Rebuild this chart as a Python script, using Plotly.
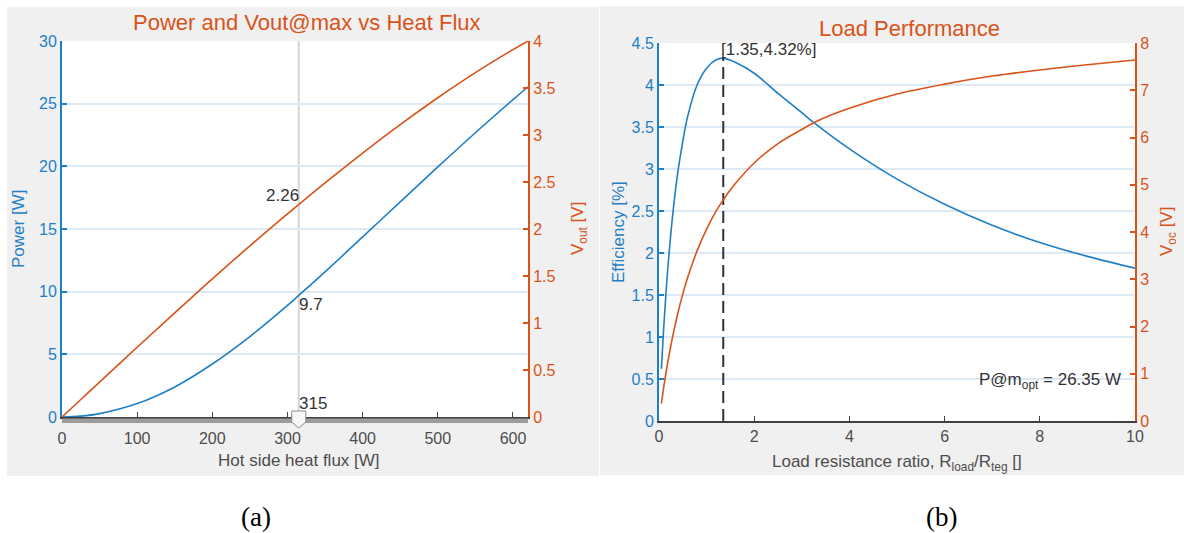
import plotly.graph_objects as go

# ---------------- data ----------------
heat_flux = [0, 25, 50, 100, 150, 200, 250, 300, 315, 350, 400, 450, 500, 550, 600, 620]
power_w = [0, 0.07, 0.27, 1.07, 2.4, 4.23, 6.42, 8.9, 9.7, 11.58, 14.37, 17.17, 19.95, 22.68, 25.32, 26.35]
vout_v = [0, 0.186, 0.371, 0.742, 1.108, 1.47, 1.82, 2.16, 2.26, 2.49, 2.808, 3.111, 3.396, 3.663, 3.908, 4.0]

load_ratio = [0.05, 0.1, 0.15, 0.2, 0.3, 0.4, 0.5, 0.6, 0.8, 1.0, 1.2, 1.35, 1.6, 2.0, 2.5, 3.0,
              3.28, 4.0, 5.0, 6.0, 7.0, 8.0, 9.0, 10.0]
efficiency = [0.62, 1.12, 1.55, 1.92, 2.52, 2.98, 3.33, 3.62, 4.0, 4.2, 4.3, 4.32, 4.27, 4.14, 3.9, 3.67,
              3.54, 3.24, 2.88, 2.58, 2.33, 2.125, 1.96, 1.82]
voc_v = [0.37, 0.72, 1.04, 1.33, 1.85, 2.30, 2.69, 3.03, 3.60, 4.06, 4.44, 4.68, 5.02, 5.46, 5.87, 6.17,
         6.33, 6.62, 6.92, 7.13, 7.3, 7.43, 7.54, 7.64]

cursor_flux = 315
cursor_power = 9.7
cursor_vout = 2.26
opt_ratio = 1.35
opt_eff = 4.32
p_opt_text = "P@m<sub>opt</sub> = 26.35 W"

x1_ticks = [0, 100, 200, 300, 400, 500, 600]

# ---------------- style ----------------
W, H = 1184, 533
BLUE = "#1f7fc6"
ORANGE = "#D95319"
GRAY_TXT = "#4d4d4d"
DARK_TXT = "#333333"
GRID = "#dde9f4"
FONT = "Liberation Sans, Arial, sans-serif"
TICK_SIZE = 16
LABEL_SIZE = 17


def px(x):
    return x / W


def py(y):
    return 1 - y / H


fig = go.Figure()

# left chart
fig.add_trace(go.Scatter(x=heat_flux, y=power_w, mode="lines", line=dict(color=BLUE, width=1.6, shape="spline"),
                         xaxis="x", yaxis="y", showlegend=False))
fig.add_trace(go.Scatter(x=heat_flux, y=vout_v, mode="lines", line=dict(color=ORANGE, width=1.6, shape="spline"),
                         xaxis="x", yaxis="y2", showlegend=False))

# right chart
fig.add_trace(go.Scatter(x=load_ratio, y=efficiency, mode="lines", line=dict(color=BLUE, width=1.6, shape="spline"),
                         xaxis="x2", yaxis="y3", showlegend=False))
fig.add_trace(go.Scatter(x=[opt_ratio, opt_ratio], y=[0, opt_eff], mode="lines",
                         line=dict(color="#333333", width=2, dash="12px,6px"),
                         xaxis="x2", yaxis="y3", showlegend=False))
fig.add_trace(go.Scatter(x=load_ratio, y=voc_v, mode="lines", line=dict(color=ORANGE, width=1.6, shape="spline"),
                         xaxis="x2", yaxis="y4", showlegend=False))

common_x = dict(ticks="inside", ticklen=5, tickwidth=1, tickcolor="#404040", showline=True, linecolor="#404040",
                linewidth=2, showgrid=False, zeroline=False, tickfont=dict(size=TICK_SIZE, color=GRAY_TXT),
                automargin=False, fixedrange=True)


def yax(color, grid, **kw):
    d = dict(ticks="inside", ticklen=5, tickwidth=1.5, tickcolor=color, showline=True, linecolor=color,
             linewidth=2, showgrid=grid, gridcolor=GRID, gridwidth=2, zeroline=False,
             tickfont=dict(size=TICK_SIZE, color=color), automargin=False, fixedrange=True)
    d.update(kw)
    return d


fig.update_layout(
    width=W, height=H,
    margin=dict(l=0, r=0, t=0, b=0),
    paper_bgcolor="white",
    plot_bgcolor="rgba(0,0,0,0)",
    font=dict(family=FONT),
    xaxis=dict(domain=[px(62), px(528)], range=[0, 620], tickvals=x1_ticks, anchor="y",
               ticklabelstandoff=6, **common_x),
    yaxis=dict(domain=[py(417), py(41)], **yax(BLUE, True, range=[0, 30], dtick=5, anchor="x")),
    yaxis2=dict(**yax(ORANGE, False, range=[0, 4], dtick=0.5, overlaying="y", side="right", anchor="x")),
    xaxis2=dict(domain=[px(659), px(1135)], range=[0, 10], dtick=2, anchor="y3", **common_x),
    yaxis3=dict(domain=[py(421), py(43)], **yax(BLUE, True, range=[0, 4.5], dtick=0.5, anchor="x2")),
    yaxis4=dict(**yax(ORANGE, False, range=[0, 8], dtick=1, overlaying="y3", side="right", anchor="x2")),
)

shapes = [
    # gray panels
    dict(type="rect", xref="paper", yref="paper", x0=px(7), x1=px(599), y0=py(476), y1=py(7),
         fillcolor="#f0f0f0", line=dict(width=0), layer="below"),
    dict(type="rect", xref="paper", yref="paper", x0=px(600), x1=1, y0=py(475), y1=py(6),
         fillcolor="#f0f0f0", line=dict(width=0), layer="below"),
    # white plot areas
    dict(type="rect", xref="paper", yref="paper", x0=px(62), x1=px(528), y0=py(417), y1=py(41),
         fillcolor="white", line=dict(width=0), layer="below"),
    dict(type="rect", xref="paper", yref="paper", x0=px(659), x1=px(1135), y0=py(421), y1=py(43),
         fillcolor="white", line=dict(width=0), layer="below"),
    # cursor line
    dict(type="line", xref="x", yref="y domain", x0=cursor_flux, x1=cursor_flux, y0=0, y1=1,
         line=dict(color="#d6d6d6", width=2), layer="below"),
    # slider bar
    dict(type="rect", xref="x", yref="paper", x0=0, x1=620, y0=py(423), y1=py(418.5),
         fillcolor="#9c9c9c", line=dict(width=0), layer="above"),
    # slider thumb
    dict(type="path", xref="x", yref="paper", xsizemode="pixel", ysizemode="pixel",
         xanchor=cursor_flux, yanchor=py(417),
         path="M-7,6 L7,6 L7,-5 L0,-11 L-7,-5 Z",
         fillcolor="#f7f7f7", line=dict(color="#8a8a8a", width=1), layer="above"),
]
fig.update_layout(shapes=shapes)

ann = []


def txt(text, x, y, size=LABEL_SIZE, color=GRAY_TXT, angle=0, family=FONT, **kw):
    d = dict(text=text, x=x, y=y, xref="paper", yref="paper", showarrow=False,
             font=dict(size=size, color=color, family=family), textangle=angle,
             xanchor="center", yanchor="middle")
    d.update(kw)
    ann.append(d)


txt("Power and Vout@max vs Heat Flux", px(307), py(22), size=22, color=ORANGE)
txt("Load Performance", px(909), py(29), size=22, color=ORANGE)
txt("Power [W]", px(18), py(229), color=BLUE, angle=-90)
txt("V<sub>out</sub> [V]", px(579), py(229), color=ORANGE, angle=-90)
txt("Efficiency [%]", px(618), py(232), color=BLUE, angle=-90)
txt("V<sub>oc</sub> [V]", px(1168), py(232), color=ORANGE, angle=-90)
txt("Hot side heat flux [W]", px(299), py(460))
txt("Load resistance ratio, R<sub>load</sub>/R<sub>teg</sub> []", px(897), py(463))
txt("(a)", px(256), py(517), size=27, color="black", family="Liberation Serif, Times New Roman, serif")
txt("(b)", px(941), py(517), size=27, color="black", family="Liberation Serif, Times New Roman, serif")

# data-anchored labels
ann.append(dict(text=f"{cursor_vout}", x=cursor_flux, y=cursor_vout, xref="x", yref="y2", showarrow=False,
                xanchor="right", yanchor="bottom", xshift=2, yshift=-2, font=dict(size=LABEL_SIZE, color=DARK_TXT)))
ann.append(dict(text=f"{cursor_power}", x=cursor_flux, y=cursor_power, xref="x", yref="y", showarrow=False,
                xanchor="left", yanchor="top", xshift=-2, yshift=2, font=dict(size=LABEL_SIZE, color=DARK_TXT)))
ann.append(dict(text=f"{cursor_flux}", x=cursor_flux, y=0, xref="x", yref="y", showarrow=False,
                xanchor="left", yanchor="bottom", xshift=-2, yshift=2, font=dict(size=LABEL_SIZE, color=DARK_TXT)))
ann.append(dict(text=f"[{opt_ratio},{opt_eff}%]", x=opt_ratio, y=opt_eff, xref="x2", yref="y3", showarrow=False,
                xanchor="left", yanchor="bottom", xshift=-4, yshift=-3, font=dict(size=LABEL_SIZE, color=DARK_TXT)))
ann.append(dict(text=p_opt_text, x=9.75, y=0.48, xref="x2", yref="y3", showarrow=False,
                xanchor="right", yanchor="middle", font=dict(size=LABEL_SIZE, color=DARK_TXT)))

fig.update_layout(annotations=ann)

fig.write_html("out.html")
